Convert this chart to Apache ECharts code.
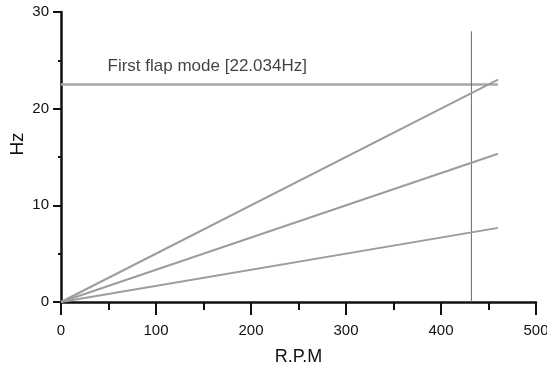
<!DOCTYPE html>
<html>
<head>
<meta charset="utf-8">
<script src="https://cdn.jsdelivr.net/npm/echarts@6/dist/echarts.min.js"></script>
<style>
html,body{margin:0;padding:0;background:#fff;}
#chart{width:547px;height:372px;}
</style>
</head>
<body>
<div id="chart"></div>
<script>
// Data
const rpm = [0, 460];
const hz1P = [0, 7.667];
const hz2P = [0, 15.333];
const hz3P = [0, 23.0];
const flapModeHz = [22.5, 22.5];     // drawn level of the flap-mode line
const flapModeRpm = [0, 460];
const verticalRpm = [432, 432];
const verticalHz = [0, 28];
const annotationText = 'First flap mode [22.034Hz]';
const annotationPos = [49, 24.4];
const xTicks = [0, 100, 200, 300, 400, 500];
const yTicks = [0, 10, 20, 30];

const zip = (a, b) => a.map((v, i) => [v, b[i]]);
const font = '"Liberation Sans", Arial, sans-serif';

const chart = echarts.init(document.getElementById('chart'), null, {renderer: 'canvas'});
const lineStyleGray = {color: '#9c9c9c', width: 2};

chart.setOption({
  animation: false,
  backgroundColor: '#fff',
  grid: {left: 61, right: 11, top: 12, bottom: 70, outerBoundsMode: 'none', containLabel: false},
  xAxis: {
    type: 'value', min: xTicks[0], max: xTicks[xTicks.length - 1], interval: 100,
    name: 'R.P.M', nameLocation: 'middle', nameGap: 46,
    nameTextStyle: {fontFamily: font, fontSize: 18, color: '#111'},
    axisLine: {show: true, onZero: false, lineStyle: {color: '#111', width: 2.5}},
    axisTick: {show: true, length: 13, lineStyle: {color: '#111', width: 2}},
    minorTick: {show: true, splitNumber: 2, length: 8, lineStyle: {color: '#111', width: 2}},
    axisLabel: {fontFamily: font, fontSize: 15, color: '#111', margin: 21},
    splitLine: {show: false}
  },
  yAxis: {
    type: 'value', min: yTicks[0], max: yTicks[yTicks.length - 1], interval: 10,
    name: 'Hz', nameLocation: 'middle', nameGap: 34, nameMoveOverlap: false,
    nameTextStyle: {fontFamily: font, fontSize: 19, color: '#111', padding: [0, 0, 0, 26]},
    axisLine: {show: true, onZero: false, lineStyle: {color: '#111', width: 2.5}},
    axisTick: {show: true, length: 8, lineStyle: {color: '#111', width: 2}},
    minorTick: {show: true, splitNumber: 2, length: 3, lineStyle: {color: '#111', width: 2}},
    axisLabel: {fontFamily: font, fontSize: 15, color: '#111', margin: 12},
    splitLine: {show: false}
  },
  series: [
    {type: 'line', data: zip(rpm, hz1P), showSymbol: false, lineStyle: lineStyleGray, z: 3},
    {type: 'line', data: zip(rpm, hz2P), showSymbol: false, lineStyle: lineStyleGray, z: 3},
    {type: 'line', data: zip(rpm, hz3P), showSymbol: false, lineStyle: lineStyleGray, z: 3},
    {type: 'line', data: zip(flapModeRpm, flapModeHz), showSymbol: false,
     lineStyle: {color: '#a8a8a8', width: 2.5}, z: 2},
    {type: 'line', data: zip(verticalRpm, verticalHz), showSymbol: false,
     lineStyle: {color: '#6a6a6a', width: 1}, z: 2},
    {type: 'scatter', data: [annotationPos], symbolSize: 0,
     label: {show: true, position: 'right', distance: 0, formatter: annotationText,
             fontFamily: font, fontSize: 17, color: '#111'}}
  ]
});
</script>
</body>
</html>
